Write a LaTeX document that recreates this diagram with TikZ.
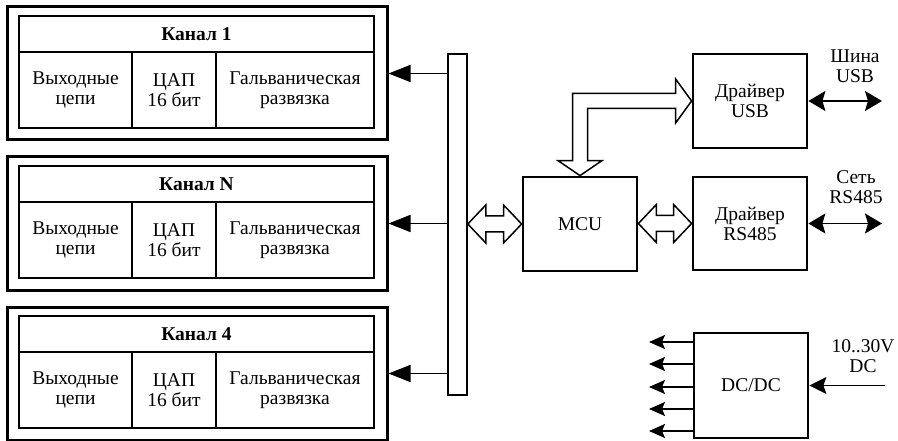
\documentclass[tikz,border=0pt]{standalone}
\usepackage{fontspec}
\setmainfont{Liberation Serif}
\usetikzlibrary{arrows.meta,calc}
\tikzset{
  txt/.style={font=\fontsize{19.5}{20}\selectfont, align=center, inner sep=0pt},
  outerbox/.style={draw, line width=3pt, minimum width=380pt, minimum height=133pt, inner sep=0pt},
  cell/.style={draw, line width=1.5pt, inner sep=0pt, txt},
  blk/.style={draw, line width=2.8pt, minimum width=114pt, inner sep=0pt, txt},
  busbox/.style={draw, line width=1.6pt, minimum width=19pt, minimum height=341pt, inner sep=0pt},
  hollow/.style={draw, line width=1.5pt, fill=white, line join=miter},
  tip/.style={line width=1.6pt, -{Triangle[length=22pt,width=17pt]}},
  stip/.style={line width=1.6pt, -{Stealth[length=17pt,width=17pt,inset=3pt]}},
  otip/.style={line width=1.6pt, -{Stealth[length=16pt,width=14pt,inset=3pt]}},
  dtip/.style={line width=1.6pt, {Stealth[length=17pt,width=20pt,inset=3pt]}-{Stealth[length=17pt,width=20pt,inset=3pt]}},
}
\newcommand\hdarrow[2]{%
  \path[hollow] let \p1=(#1), \p2=(#2) in
    (\x1,\y1) -- (\x1+18pt,\y1+19pt) -- (\x1+18pt,\y1+8pt) -- (\x2-18pt,\y1+8pt)
    -- (\x2-18pt,\y1+19pt) -- (\x2,\y1) -- (\x2-18pt,\y1-19pt) -- (\x2-18pt,\y1-8pt)
    -- (\x1+18pt,\y1-8pt) -- (\x1+18pt,\y1-19pt) -- cycle;}
\begin{document}
\begin{tikzpicture}[x=1pt,y=-1pt]
\useasboundingbox (0,0) rectangle (898,441);
% channels
\foreach \n/\T/\title in {c1/7/Канал 1, cn/157/Канал N, c4/307/Канал 4}{
  \node[outerbox] (\n) at (197,\T+66.5) {};
  \node[cell, minimum width=355pt, minimum height=36pt, font=\fontsize{19.5}{20}\selectfont\bfseries] (\n h) at (196.5,\T+27) {\title};
  \node[cell, minimum width=113pt, minimum height=76pt] (\n a) at (75.5,\T+83) {Выходные\\цепи};
  \node[cell, minimum width=84pt, minimum height=76pt] (\n b) at (174,\T+83) {ЦАП\\16 бит};
  \node[cell, minimum width=158pt, minimum height=76pt] (\n c) at (295,\T+83) {Гальваническая\\развязка};
}
% bus
\node[busbox] (bus) at (457.5,224.5) {};
\foreach \n in {c1,cn,c4}{
  \draw[tip] (bus.west |- \n.east) -- (\n.east);
}
% blocks
\node[blk, minimum height=94pt] (mcu) at (580,224) {MCU};
\node[blk, minimum height=94pt] (usbdrv) at (750,101) {Драйвер\\USB};
\node[blk, minimum height=93pt] (rsdrv) at (750,223.5) {Драйвер\\RS485};
\node[blk, minimum height=105pt] (dcdc) at (751,385.5) {DC/DC};
% hollow arrows
\coordinate (busmcu) at (bus.east |- mcu.west);
\hdarrow{busmcu}{mcu.west}
\coordinate (mcurs) at (mcu.east |- rsdrv.west);
\hdarrow{mcurs}{rsdrv.west}
\path[hollow] let \p1=(mcu.north), \p2=(usbdrv.west) in
  (\x1,\y1) -- (\x1-22pt,\y1+15pt) -- (\x1-7.5pt,\y1+15pt) -- (\x1-7.5pt,\y2+7.5pt)
  -- (\x2-16pt,\y2+7.5pt) -- (\x2-16pt,\y2+22pt) -- (\x2,\y2) -- (\x2-16pt,\y2-22pt)
  -- (\x2-16pt,\y2-7.5pt) -- (\x1+7.5pt,\y2-7.5pt) -- (\x1+7.5pt,\y1+15pt)
  -- (\x1+22pt,\y1+15pt) -- cycle;
% external lines
\coordinate (usbend) at (882,101);
\coordinate (rsend) at (882,223.5);
\draw[dtip] (usbdrv.east) -- (usbend);
\draw[dtip] (rsdrv.east) -- (rsend);
\node[txt] (usblbl) at (855,66) {Шина\\USB};
\node[txt] (rslbl) at (856,187) {Сеть\\RS485};
\node[txt] (dclbl) at (863,356) {10..30V\\DC};
\coordinate (dcin) at (885,385.5);
\draw[stip] (dcin) -- (dcdc.east);
\foreach \i/\yy in {1/342,2/364,3/387,4/409,5/431}{
  \coordinate (o\i) at (649,\yy);
  \draw[otip] (dcdc.west |- o\i) -- (o\i);
}
\end{tikzpicture}
\end{document}
